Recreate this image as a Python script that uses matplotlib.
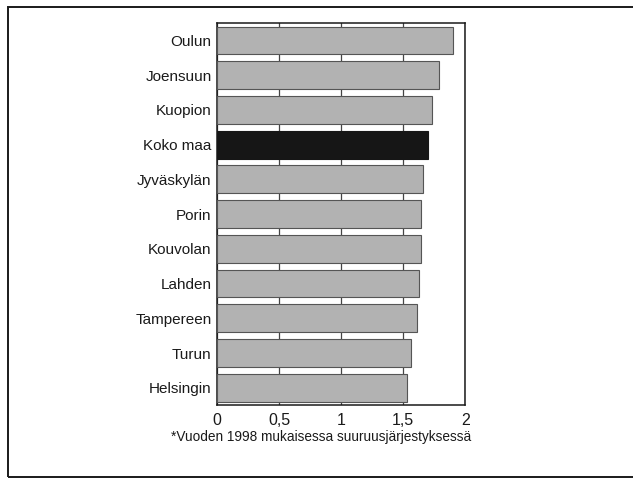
import matplotlib
matplotlib.use("Agg")
import matplotlib.pyplot as plt
from matplotlib import font_manager
from matplotlib.patches import Rectangle

# data, top to bottom as in the chart
cities = ["Oulun", "Joensuun", "Kuopion", "Koko maa", "Jyväskylän", "Porin",
          "Kouvolan", "Lahden", "Tampereen", "Turun", "Helsingin"]
values = [1.90, 1.79, 1.73, 1.70, 1.66, 1.64, 1.64, 1.63, 1.61, 1.56, 1.53]
highlight = "Koko maa"
xticks = [0, 0.5, 1, 1.5, 2]
xtick_labels = ["0", "0,5", "1", "1,5", "2"]
footnote = "*Vuoden 1998 mukaisessa suuruusjärjestyksessä"

# narrow font if there is one, else plain Liberation Sans
names = {f.name for f in font_manager.fontManager.ttflist}
narrow = "Liberation Sans Narrow" in names
plt.rcParams["font.family"] = [
    "Liberation Sans Narrow" if narrow else "Liberation Sans", "DejaVu Sans"]
lab_size = 12 if narrow else 11
tick_size = 13 if narrow else 11.5
note_size = 11 if narrow else 9.8

fig = plt.figure(figsize=(6.33, 4.8), dpi=100)
ax = fig.add_axes([0.343, 0.156, 0.392, 0.796])

# outer frame around the whole graphic
fig.patches.append(Rectangle((8 / 633, 3 / 480), 1.0, 470 / 480,
                             transform=fig.transFigure, fill=False,
                             edgecolor="#1a1a1a", linewidth=1.4))

pos = list(range(len(cities)))[::-1]
colors = ["#161616" if c == highlight else "#b2b2b2" for c in cities]
edges = ["#161616" if c == highlight else "#555555" for c in cities]
ax.barh(pos, values, height=0.8, color=colors, edgecolor=edges,
        linewidth=0.8, zorder=3)

ax.set_xlim(0, 2)
ax.set_ylim(-0.5, len(cities) - 0.5)
ax.set_yticks(pos)
ax.set_yticklabels(cities, fontsize=lab_size)
ax.set_xticks(xticks)
ax.set_xticklabels(xtick_labels, fontsize=tick_size)
ax.tick_params(axis="both", length=0, colors="#1a1a1a")
ax.tick_params(axis="x", pad=6)
ax.tick_params(axis="y", pad=4)

ax.grid(axis="x", color="#444444", linewidth=0.9, zorder=1)
ax.set_axisbelow(True)
for s in ax.spines.values():
    s.set_color("#1a1a1a")
    s.set_linewidth(1.1)

fig.text(321 / 633, 1 - 437 / 480, footnote, ha="center", va="center",
         fontsize=note_size, color="#1a1a1a")

fig.savefig("out.png", dpi=100, facecolor="white")
